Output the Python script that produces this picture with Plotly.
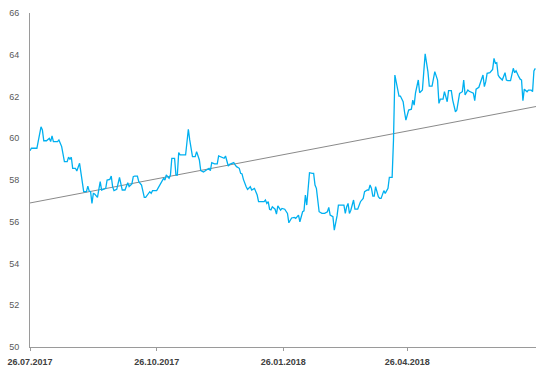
import plotly.graph_objects as go

# Daily closing prices (date, value)
dates = [
    "2017-07-26", "2017-07-27", "2017-07-31", "2017-08-03", "2017-08-04", "2017-08-05", "2017-08-07",
    "2017-08-09", "2017-08-10", "2017-08-11", "2017-08-12", "2017-08-15", "2017-08-16", "2017-08-18",
    "2017-08-20", "2017-08-22", "2017-08-23", "2017-08-24", "2017-08-25", "2017-08-26", "2017-08-28",
    "2017-08-29", "2017-08-31", "2017-09-01", "2017-09-03", "2017-09-05", "2017-09-06", "2017-09-07",
    "2017-09-08", "2017-09-09", "2017-09-10", "2017-09-11", "2017-09-13", "2017-09-14", "2017-09-15",
    "2017-09-16", "2017-09-17", "2017-09-19", "2017-09-20", "2017-09-22", "2017-09-23", "2017-09-24",
    "2017-09-25", "2017-09-27", "2017-09-29", "2017-10-01", "2017-10-03", "2017-10-05", "2017-10-06",
    "2017-10-08", "2017-10-09", "2017-10-10", "2017-10-12", "2017-10-13", "2017-10-15", "2017-10-17",
    "2017-10-18", "2017-10-20", "2017-10-21", "2017-10-22", "2017-10-23", "2017-10-26", "2017-10-28",
    "2017-10-29", "2017-10-31", "2017-11-01", "2017-11-02", "2017-11-04", "2017-11-05", "2017-11-06",
    "2017-11-08", "2017-11-09", "2017-11-10", "2017-11-11", "2017-11-12", "2017-11-16", "2017-11-18",
    "2017-11-19", "2017-11-21", "2017-11-23", "2017-11-24", "2017-11-26", "2017-11-27", "2017-11-29",
    "2017-12-01", "2017-12-03", "2017-12-04", "2017-12-05", "2017-12-07", "2017-12-09", "2017-12-10",
    "2017-12-12", "2017-12-14", "2017-12-15", "2017-12-16", "2017-12-17", "2017-12-18", "2017-12-20",
    "2017-12-21", "2017-12-22", "2017-12-23", "2017-12-25", "2017-12-26", "2017-12-27", "2017-12-28",
    "2017-12-30", "2017-12-31", "2018-01-02", "2018-01-03", "2018-01-05", "2018-01-07", "2018-01-08",
    "2018-01-10", "2018-01-12", "2018-01-13", "2018-01-14", "2018-01-15", "2018-01-16", "2018-01-17",
    "2018-01-18", "2018-01-20", "2018-01-21", "2018-01-22", "2018-01-24", "2018-01-25", "2018-01-27",
    "2018-01-29", "2018-01-30", "2018-02-01", "2018-02-03", "2018-02-04", "2018-02-06", "2018-02-07",
    "2018-02-09", "2018-02-10", "2018-02-11", "2018-02-12", "2018-02-13", "2018-02-14", "2018-02-16",
    "2018-02-17", "2018-02-18", "2018-02-19", "2018-02-21", "2018-02-23", "2018-02-25", "2018-02-27",
    "2018-02-28", "2018-03-01", "2018-03-03", "2018-03-04", "2018-03-06", "2018-03-07", "2018-03-11",
    "2018-03-12", "2018-03-13", "2018-03-14", "2018-03-15", "2018-03-16", "2018-03-18", "2018-03-19",
    "2018-03-21", "2018-03-23", "2018-03-25", "2018-03-26", "2018-03-28", "2018-03-29", "2018-03-30",
    "2018-03-31", "2018-04-01", "2018-04-02", "2018-04-03", "2018-04-05", "2018-04-06", "2018-04-07",
    "2018-04-09", "2018-04-10", "2018-04-12", "2018-04-13", "2018-04-15", "2018-04-16", "2018-04-17",
    "2018-04-20", "2018-04-21", "2018-04-23", "2018-04-24", "2018-04-25", "2018-04-27", "2018-04-29",
    "2018-04-30", "2018-05-01", "2018-05-02", "2018-05-04", "2018-05-05", "2018-05-07", "2018-05-08",
    "2018-05-09", "2018-05-11", "2018-05-12", "2018-05-14", "2018-05-16", "2018-05-18", "2018-05-19",
    "2018-05-20", "2018-05-22", "2018-05-23", "2018-05-25", "2018-05-26", "2018-05-28", "2018-05-29",
    "2018-05-31", "2018-06-01", "2018-06-03", "2018-06-05", "2018-06-06", "2018-06-07", "2018-06-09",
    "2018-06-10", "2018-06-12", "2018-06-13", "2018-06-14", "2018-06-15", "2018-06-17", "2018-06-18",
    "2018-06-20", "2018-06-21", "2018-06-22", "2018-06-23", "2018-06-25", "2018-06-27", "2018-06-28",
    "2018-06-29", "2018-06-30", "2018-07-01", "2018-07-02", "2018-07-04", "2018-07-06", "2018-07-07",
    "2018-07-08", "2018-07-10", "2018-07-12", "2018-07-13", "2018-07-14", "2018-07-16", "2018-07-17",
    "2018-07-18", "2018-07-19", "2018-07-20", "2018-07-22", "2018-07-23", "2018-07-25", "2018-07-26",
    "2018-07-27", "2018-07-28",
]

prices = [
    59.40, 59.52, 59.52, 60.55, 60.40, 59.88, 59.88,
    60.00, 59.84, 60.11, 59.84, 59.84, 59.92, 59.60,
    58.88, 58.88, 59.09, 59.00, 59.09, 58.56, 58.56,
    58.43, 58.80, 58.40, 57.44, 57.44, 57.71, 57.47,
    57.44, 56.88, 57.36, 57.33, 57.17, 57.55, 57.92,
    57.52, 57.55, 57.60, 58.00, 58.03, 58.19, 57.68,
    57.49, 57.55, 58.12, 57.52, 57.52, 57.87, 57.68,
    57.81, 58.16, 58.19, 58.19, 57.92, 57.76, 57.17,
    57.17, 57.33, 57.44, 57.36, 57.49, 57.49, 57.71,
    57.87, 58.08, 58.00, 58.24, 58.08, 58.24, 59.04,
    59.04, 58.24, 58.24, 59.31, 59.20, 59.20, 60.43,
    59.92, 59.12, 59.12, 59.36, 58.96, 58.45, 58.38,
    58.46, 58.56, 58.45, 58.83, 58.77, 58.77, 59.15,
    59.09, 59.04, 59.15, 58.96, 58.67, 58.75, 58.80,
    58.83, 58.72, 58.64, 58.56, 58.32, 58.29, 58.03,
    57.68, 57.55, 57.68, 57.52, 57.60, 57.28, 56.96,
    56.95, 56.96, 57.04, 56.88, 56.96, 56.60, 56.57,
    56.72, 56.60, 56.37, 56.76, 56.56, 56.64, 56.60,
    56.40, 55.95, 56.18, 56.21, 56.16, 56.32, 56.00,
    56.48, 56.52, 57.28, 56.80, 57.68, 58.35, 58.32,
    58.32, 57.76, 57.60, 56.48, 56.40, 56.40, 56.48,
    56.69, 56.32, 56.24, 55.60, 56.28, 56.80, 56.80,
    56.40, 56.72, 56.88, 56.40, 56.55, 57.04, 56.60,
    56.60, 56.96, 57.12, 57.44, 57.52, 57.52, 57.76,
    57.60, 57.23, 57.23, 57.68, 57.20, 57.12, 57.12,
    57.49, 57.36, 57.60, 58.13, 58.13, 59.90, 63.03,
    62.02, 62.02, 61.75, 61.27, 60.87, 61.35, 61.39,
    61.83, 61.59, 62.18, 62.79, 62.18, 62.31, 63.19,
    64.04, 63.19, 62.50, 62.50, 63.19, 62.79, 61.67,
    61.87, 61.87, 62.23, 61.75, 62.28, 62.28, 61.83,
    61.27, 61.35, 62.15, 62.23, 62.79, 62.07, 62.31,
    62.25, 62.18, 62.16, 61.80, 62.35, 62.44, 62.63,
    63.03, 62.47, 62.71, 63.11, 63.14, 63.30, 63.83,
    63.59, 63.62, 63.03, 62.92, 62.79, 63.14, 62.79,
    62.76, 62.76, 63.35, 63.14, 63.23, 62.95, 62.83,
    62.79, 61.80, 62.35, 62.23, 62.31, 62.31, 62.23,
    63.23, 63.35,
]

# Linear trend line endpoints
trend_dates = ["2017-07-26", "2018-07-28 12:00"]
trend_values = [56.90, 61.52]

# Axis ticks
x_tickvals = ["2017-07-26", "2017-10-26", "2018-01-26", "2018-04-26"]
x_ticktext = ["26.07.2017", "26.10.2017", "26.01.2018", "26.04.2018"]
y_tickvals = [50, 52, 54, 56, 58, 60, 62, 64, 66]

fig = go.Figure()
fig.add_trace(go.Scatter(
    x=trend_dates, y=trend_values, mode="lines",
    line=dict(color="#8a8a8a", width=1), hoverinfo="skip",
))
fig.add_trace(go.Scatter(
    x=dates, y=prices, mode="lines",
    line=dict(color="#00b0f0", width=1.3),
))

axis_color = "#9a9a9a"
fig.update_layout(
    width=536, height=368,
    margin=dict(l=30, r=0, t=13, b=21),
    paper_bgcolor="white", plot_bgcolor="white",
    showlegend=False,
    font=dict(family="Liberation Sans, Arial, sans-serif", size=9, color="#595959"),
    xaxis=dict(
        type="date",
        range=["2017-07-26", "2018-07-28 12:00"],
        tickvals=x_tickvals, ticktext=x_ticktext,
        tickfont=dict(size=9, color="#404040", family="Liberation Sans, Arial, sans-serif", weight="bold"),
        showline=True, linecolor=axis_color, linewidth=1,
        ticks="outside", ticklen=3, tickcolor=axis_color,
        ticklabelstandoff=3,
        showgrid=False, zeroline=False, automargin=False,
    ),
    yaxis=dict(
        range=[50, 66],
        tickvals=y_tickvals,
        tickfont=dict(size=9, color="#595959"),
        showline=True, linecolor=axis_color, linewidth=1,
        ticks="", ticklabelstandoff=8,
        showgrid=False, zeroline=False, automargin=False,
    ),
)

fig.write_html("out.html")
